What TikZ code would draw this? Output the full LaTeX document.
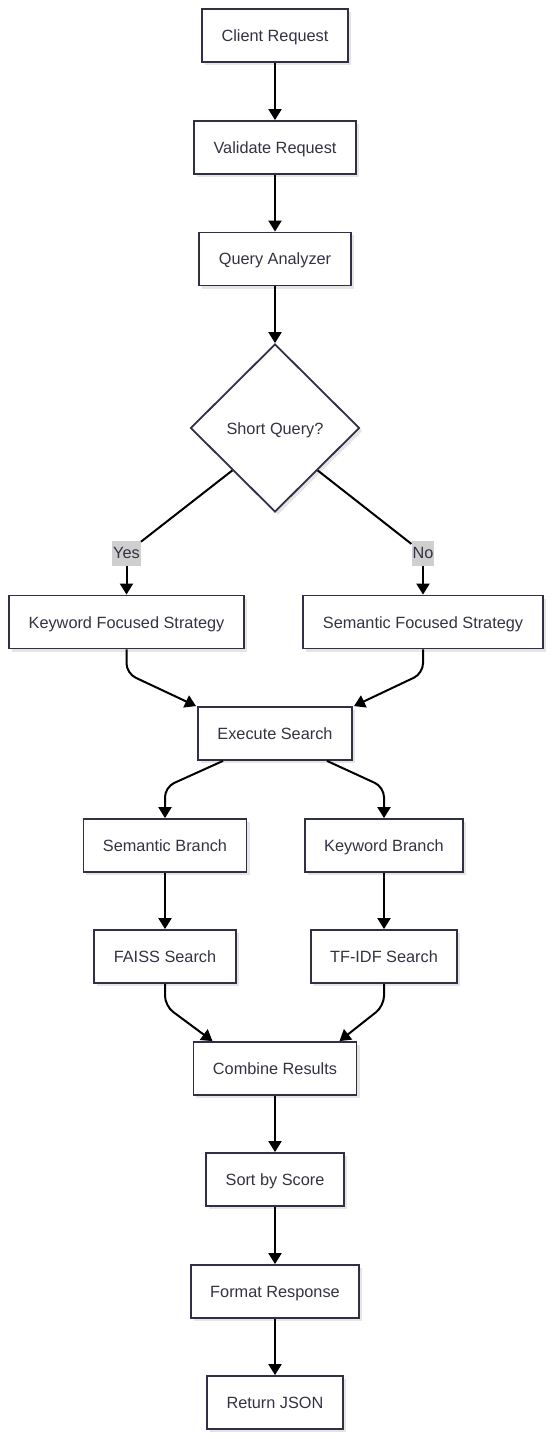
\documentclass[tikz,border=0pt]{standalone}
\usepackage{fontspec}
\setmainfont{Liberation Sans}
\usetikzlibrary{shapes.geometric, arrows.meta, shadows}

\definecolor{boxline}{HTML}{2F2F45}
\definecolor{boxtext}{HTML}{333344}
\definecolor{lblfill}{HTML}{CFCFCF}

\tikzset{
    box/.style={draw=boxline, line width=1.8pt, fill=white, text=boxtext,
        font=\fontsize{16.3}{19}\selectfont, inner xsep=19.5pt, text height=15pt, text depth=3pt,
        minimum height=53pt, drop shadow={shadow xshift=3pt, shadow yshift=-3pt, fill=black!10, opacity=1}},
    decision/.style={box, shape=diamond, inner sep=0pt, minimum width=169pt, minimum height=168pt},
    lbl/.style={fill=lblfill, text=boxtext, font=\fontsize{16.3}{19}\selectfont,
        inner xsep=1pt, inner ysep=4pt, text height=14pt, text depth=3pt},
    link/.style={line width=2pt, black},
    flow/.style={link, -{Triangle[length=11pt, width=13pt]}}
}

\begin{document}
\begin{tikzpicture}[x=1pt, y=-1pt]
    \useasboundingbox (0,0) rectangle (552,1439);

    % Main chain
    \node[box] (client) at (275,35.5) {Client Request};
    \node[box] (valid) at (275,147.5) {Validate Request};
    \node[box] (analyzer) at (275,259) {Query Analyzer};
    \node[decision] (short) at (275,428) {Short Query?};

    % Strategies
    \node[lbl] (yes) at (126.5,553) {Yes};
    \node[lbl] (no) at (423,553) {No};
    \node[box] (kwstrat) at (126.5,622) {Keyword Focused Strategy};
    \node[box] (semstrat) at (423,622) {Semantic Focused Strategy};

    % Search
    \node[box] (exec) at (275,733.5) {Execute Search};
    \node[box] (sembr) at (165,845.5) {Semantic Branch};
    \node[box] (kwbr) at (384,845.5) {Keyword Branch};
    \node[box] (faiss) at (165,956.5) {FAISS Search};
    \node[box] (tfidf) at (384,956.5) {TF-IDF Search};

    % Results
    \node[box] (combine) at (275,1068.5) {Combine Results};
    \node[box] (sort) at (275,1179.5) {Sort by Score};
    \node[box] (format) at (275,1291.5) {Format Response};
    \node[box] (ret) at (275,1402.5) {Return JSON};

    % Arrows
    \draw[flow] (client) -- (valid);
    \draw[flow] (valid) -- (analyzer);
    \draw[flow] (analyzer) -- (short);

    \draw[link] (short.south west) -- (yes);
    \draw[flow] (yes) -- (kwstrat);
    \draw[link] (short.south east) -- (no);
    \draw[flow] (no) -- (semstrat);

    \draw[flow, rounded corners=10pt] (kwstrat.south) -- ([yshift=-24pt]kwstrat.south) -- ([xshift=-1pt]exec.north west);
    \draw[flow, rounded corners=10pt] (semstrat.south) -- ([yshift=-24pt]semstrat.south) -- ([xshift=1pt]exec.north east);

    \draw[flow, rounded corners=10pt] ([xshift=-52pt]exec.south) -- ([yshift=31pt]sembr.north) -- (sembr.north);
    \draw[flow, rounded corners=10pt] ([xshift=52pt]exec.south) -- ([yshift=31pt]kwbr.north) -- (kwbr.north);

    \draw[flow] (sembr) -- (faiss);
    \draw[flow] (kwbr) -- (tfidf);

    \draw[flow, rounded corners=10pt] (faiss.south) -- ([yshift=-22pt]faiss.south) -- ([xshift=20pt]combine.north west);
    \draw[flow, rounded corners=10pt] (tfidf.south) -- ([yshift=-22pt]tfidf.south) -- ([xshift=-18pt]combine.north east);

    \draw[flow] (combine) -- (sort);
    \draw[flow] (sort) -- (format);
    \draw[flow] (format) -- (ret);

\end{tikzpicture}
\end{document}
